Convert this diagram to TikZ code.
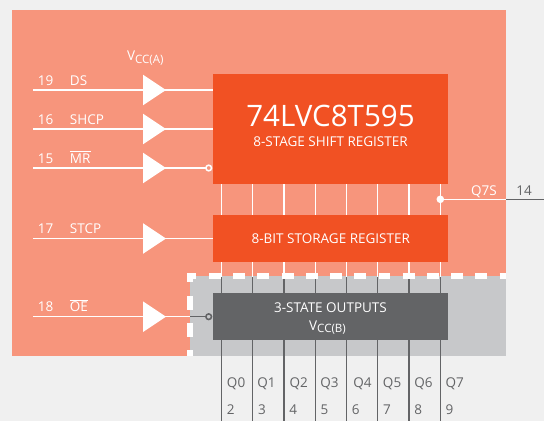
\documentclass[tikz,border=0pt]{standalone}
\usepackage{fontspec}
\setmainfont{Open Sans}
\definecolor{pagebg}{HTML}{F0F0F0}
\definecolor{salmon}{HTML}{F7957C}
\definecolor{regorange}{HTML}{F15123}
\definecolor{outgray}{HTML}{C7C8CA}
\definecolor{darkgray}{HTML}{636466}
\newcommand{\vccname}[1]{V\raisebox{-1.9pt}{\fontsize{8.2}{10}\selectfont CC(#1)}}
\begin{document}
\begin{tikzpicture}[x=.025cm,y=-.025cm,font=\fontsize{9.6}{12}\selectfont,
 block/.style={anchor=north west,inner sep=0pt,text=white,align=center,minimum width=235*.025cm},
 buffer/.style={fill=white},
 signal/.style={line width=.75pt,white},
 return/.style={line width=.75pt,darkgray},
 pinlabel/.style={white,anchor=base west,inner sep=0pt},
 outlabel/.style={darkgray,anchor=base west,inner sep=0pt},
 invert/.style={circle,draw=#1,line width=1.1pt,inner sep=0pt,minimum size=4pt},
 frame/.style={white,line width=3.9pt}]
\path[use as bounding box,fill=pagebg] (0,0) rectangle (544,421);
\fill[salmon] (12,10) rectangle (506,356);
\fill[outgray] (190,276) rectangle (506,356);
% Parallel lines between the registers and down to the pins.
\foreach \i/\x/\off/\pin in {0/221.5/5.2/2,1/252.8/4.2/3,2/284/5.3/4,3/315.3/4.7/5,4/346.5/6.5/6,5/377.8/4.9/7,6/409/5/8,7/440.3/5/9}{
  \coordinate (a\i) at (\x,184);
  \coordinate (b\i) at (\x,215);
  \coordinate (c\i) at (\x,262);
  \coordinate (d\i) at (\x,277);
  \coordinate (e\i) at (\x,421);
  \draw[signal] (a\i) -- (b\i);
  \draw[signal] (c\i) -- (d\i);
  \draw[return] (d\i) -- (e\i);
  \node[outlabel] (q\i) at (\x+\off,387) {Q\i};
  \node[outlabel] (p\i) at (\x+5,414) {\pin};
}
% Register blocks, top to bottom.
\node[block,fill=regorange,minimum height=110*.025cm] (shift) at (213,74) {};
\node[block,fill=regorange,minimum height=47*.025cm] (storage) at (213,215) {8-BIT STORAGE REGISTER};
\node[block,fill=darkgray,minimum height=47*.025cm] (outputs) at (213,293) {};
\node[white,font=\fontsize{21}{25}\selectfont] (part) at (330.5,115.5) {74LVC8T595};
\node[white] (stage) at (330.5,141.5) {8-STAGE SHIFT REGISTER};
\node[white] (state) at (330.5,308) {3-STATE OUTPUTS};
\node[white,anchor=base] (vccb) at (327.5,330) {\vccname{B}};
% Inputs.
\foreach \name/\y/\stop/\pin/\lab in {ds/90/213/19/DS,shcp/129/213/16/SHCP,mr/168/208.7/15/$\overline{\mbox{MR}}$,stcp/238.5/213/17/STCP,oe/316.7/190/18/$\overline{\mbox{OE}}$}{
  \coordinate (\name in) at (33,\y);
  \coordinate (\name out) at (\stop,\y);
  \draw[signal] (\name in) -- (\name out);
  \fill[buffer] (143,\y-15.3) -- (166,\y) -- (143,\y+15.3) -- cycle;
  \node[pinlabel] (\name pin) at (37.5,\y-5) {\pin};
  \node[pinlabel] (\name lab) at (69.7,\y-5) {\lab};
}
\node[invert=white,fill=salmon] (mrnot) at (208.7,168) {};
\node[invert=darkgray,fill=outgray] (oenot) at (208.7,316.7) {};
\draw[return] (oeout) -- (oenot);
\node[white,anchor=base] (vcca) at (145.3,60.7) {\vccname{A}};
% Serial output.
\node[circle,fill=white,inner sep=0pt,minimum size=5.4pt] (q7dot) at (440.3,199.3) {};
\coordinate (q7edge) at (506,199.3);
\coordinate (q7end) at (544,199.3);
\draw[signal] (q7dot) -- (q7edge);
\draw[return] (q7edge) -- (q7end);
\node[white,anchor=base east,inner sep=0pt] (q7s) at (497,195) {Q7S};
\node[outlabel] (pin14) at (516,195) {14};
% Dashed frame of the VCC(B) domain.
\draw[frame] (196,276) -- (190,276) -- (190,282);
\draw[frame,dash pattern=on 8.5pt off 8.72pt] (209,276) -- (506,276);
\draw[frame,dash pattern=on 10pt off 9.14pt] (190,296) -- (190,356);
\end{tikzpicture}
\end{document}
